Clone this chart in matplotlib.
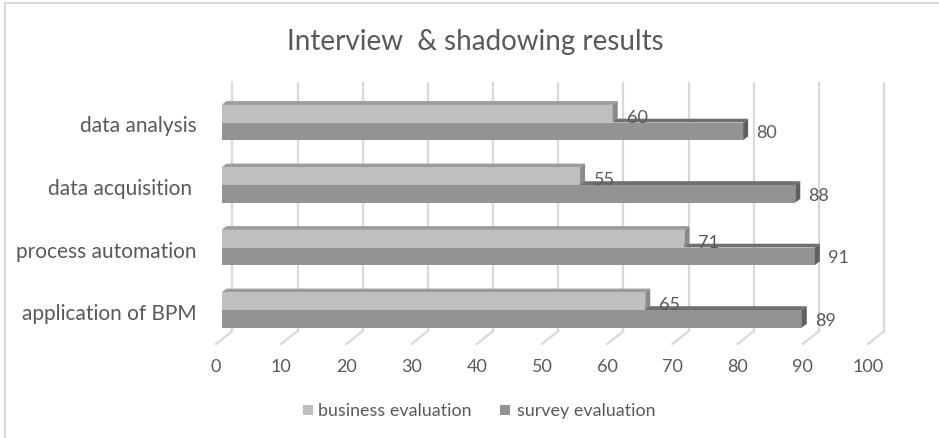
import matplotlib
matplotlib.use("Agg")
import matplotlib.pyplot as plt
from matplotlib.patches import Polygon, Rectangle
from matplotlib.lines import Line2D
from matplotlib.transforms import IdentityTransform

# ---- data ----
categories = ["application of BPM", "process automation", "data acquisition ", "data analysis"]
business = [65, 71, 55, 60]
survey = [89, 91, 88, 80]
series_names = ["business evaluation", "survey evaluation"]
xticks = [0, 10, 20, 30, 40, 50, 60, 70, 80, 90, 100]
title = "Interview  & shadowing results"

# ---- style ----
W, H = 939, 439
DPI = 100
FONT = "Lato"
TXT = "#595959"
GRID = "#D9D9D9"
c_bus = {"front": "#BFBFBF", "top": "#9C9C9C", "side": "#8A8A8A"}
c_sur = {"front": "#939393", "top": "#707070", "side": "#5F5F5F"}

plt.rcParams["font.family"] = [FONT, "DejaVu Sans"]

fig = plt.figure(figsize=(W / DPI, H / DPI), dpi=DPI)
fig.patch.set_facecolor("white")

x0_px, scale_px = 221.5, 6.52
y_top_px, y_bot_px = 61.0, 373.5
ax = fig.add_axes([x0_px / W, (H - y_bot_px) / H, scale_px * 100 / W, (y_bot_px - y_top_px) / H])
ax.set_xlim(0, 100)
ax.set_ylim(-1, 4)
ax.set_axis_off()

unit_y_px = (y_bot_px - y_top_px) / 5.0
DX = 5.0 / scale_px
DY = 3.8 / unit_y_px
BH = 17.6 / unit_y_px

def disp(v, y):
    return ax.transData.transform([[v, y]])[0]

back_off, front_off = 10.8, -5.5
grid_top_px, floor_back_px, floor_front_px = 84, 332, 345
for v in xticks:
    xd = disp(v, 0)[0]
    ax.add_line(Line2D([xd + back_off, xd + back_off], [H - grid_top_px, H - floor_back_px],
                       transform=IdentityTransform(), color=GRID, lw=1.6, zorder=1, clip_on=False))
    ax.add_line(Line2D([xd + back_off, xd + front_off], [H - floor_back_px, H - floor_front_px],
                       transform=IdentityTransform(), color=GRID, lw=1.6, zorder=1, clip_on=False))
    ax.annotate(str(v), xy=(v, 1 - 367 / H), xycoords=("data", "figure fraction"),
                xytext=(front_off, 0), textcoords="offset pixels",
                ha="center", va="center", fontsize=13, color=TXT)

def bar3d(v, y0, cols, z):
    ax.add_patch(Polygon([(0, y0 + BH), (v, y0 + BH), (v + DX, y0 + BH + DY), (DX, y0 + BH + DY)],
                         closed=True, facecolor=cols["top"], edgecolor="none", zorder=z))
    ax.barh(y0 + BH / 2, v, height=BH, left=0, color=cols["front"], edgecolor="none", zorder=z)
    ax.add_patch(Polygon([(v, y0), (v, y0 + BH), (v + DX, y0 + BH + DY), (v + DX, y0 + DY)],
                         closed=True, facecolor=cols["side"], edgecolor="none", zorder=z))

for i, cat in enumerate(categories):
    bar3d(survey[i], i - BH, c_sur, 3)
    bar3d(business[i], i, c_bus, 4)
    ax.annotate(str(business[i]), xy=(business[i], i + BH / 2), xytext=(14, -3),
                textcoords="offset pixels", ha="left", va="center", fontsize=13, color=TXT, zorder=6)
    ax.annotate(str(survey[i]), xy=(survey[i], i - BH / 2), xytext=(13, -1),
                textcoords="offset pixels", ha="left", va="center", fontsize=13, color=TXT, zorder=6)
    ax.annotate(cat, xy=(0, i), xytext=(-24.5, -3), textcoords="offset pixels",
                ha="right", va="center", fontsize=15, color=TXT)

fig.text(475 / W, 1 - 42 / H, title, ha="center", va="center", fontsize=20, color=TXT)

leg_y = 411
fig.add_artist(Rectangle((303 / W, 1 - (leg_y + 5) / H), 10 / W, 10 / H, transform=fig.transFigure,
                         facecolor=c_bus["front"], edgecolor="none"))
fig.text(318 / W, 1 - leg_y / H, series_names[0], ha="left", va="center", fontsize=12.9, color=TXT)
fig.add_artist(Rectangle((500 / W, 1 - (leg_y + 5) / H), 10 / W, 10 / H, transform=fig.transFigure,
                         facecolor=c_sur["front"], edgecolor="none"))
fig.text(517 / W, 1 - leg_y / H, series_names[1], ha="left", va="center", fontsize=12.9, color=TXT)

fig.add_artist(Line2D([5, 5], [0, H - 4], transform=IdentityTransform(), color=GRID, lw=1.5))
fig.add_artist(Line2D([5, W], [H - 4, H - 4], transform=IdentityTransform(), color=GRID, lw=1.5))

fig.savefig("out.png", dpi=DPI, facecolor="white")
